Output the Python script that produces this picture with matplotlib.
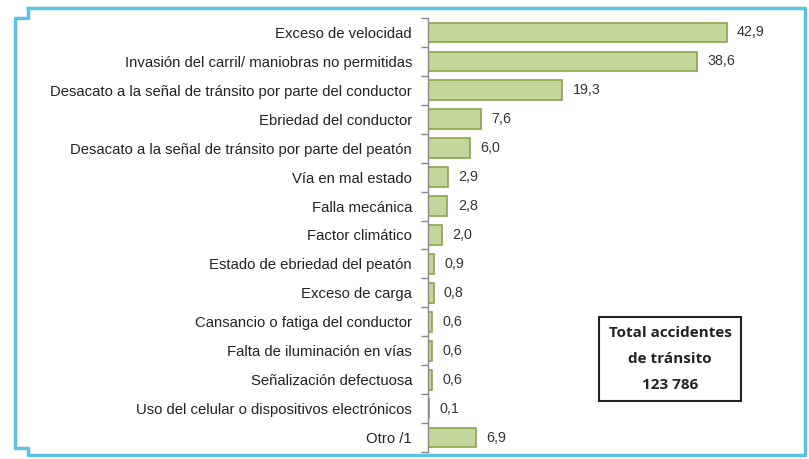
import matplotlib.pyplot as plt
from matplotlib.lines import Line2D
from matplotlib.ticker import FixedLocator

# Data
causes = [
    "Exceso de velocidad",
    "Invasión del carril/ maniobras no permitidas",
    "Desacato a la señal de tránsito por parte del conductor",
    "Ebriedad del conductor",
    "Desacato a la señal de tránsito por parte del peatón",
    "Vía en mal estado",
    "Falla mecánica",
    "Factor climático",
    "Estado de ebriedad del peatón",
    "Exceso de carga",
    "Cansancio o fatiga del conductor",
    "Falta de iluminación en vías",
    "Señalización defectuosa",
    "Uso del celular o dispositivos electrónicos",
    "Otro /1",
]
values = [42.9, 38.6, 19.3, 7.6, 6.0, 2.9, 2.8, 2.0, 0.9, 0.8, 0.6, 0.6, 0.6, 0.1, 6.9]
total_text = "Total accidentes\nde tránsito\n123 786"

plt.rcParams['font.family'] = ['Liberation Sans', 'DejaVu Sans']

W, H = 809, 459
fig = plt.figure(figsize=(W / 100, H / 100), dpi=100)
fig.patch.set_facecolor('white')

# axes placed in pixel terms
ax_left, ax_right, ax_top, ax_bottom = 428, 790, 18, 452
ax = fig.add_axes([ax_left / W, 1 - ax_bottom / H, (ax_right - ax_left) / W, (ax_bottom - ax_top) / H])

ypos = list(range(len(causes)))
ax.barh(ypos, values, height=0.68, color='#c3d69b', edgecolor='#8aa54a', linewidth=1.2)

for y, v in zip(ypos, values):
    ax.annotate(f"{v:.1f}".replace('.', ','), (v, y), xytext=(7.5, 0), textcoords='offset points',
                va='center', ha='left', fontsize=10.3, color='#333333')

ax.set_xlim(0, 52)
ax.set_ylim(len(causes) - 0.5, -0.5)
ax.set_yticks(ypos)
ax.set_yticklabels(causes, fontsize=10.7, color='#222222')
ax.tick_params(axis='y', which='major', length=0, pad=11.5)
ax.yaxis.set_minor_locator(FixedLocator([i - 0.5 for i in range(len(causes) + 1)]))
ax.tick_params(axis='y', which='minor', length=5, color='#888888', width=1)
ax.set_xticks([])
for s in ['top', 'right', 'bottom']:
    ax.spines[s].set_visible(False)
ax.spines['left'].set_color('#888888')
ax.spines['left'].set_linewidth(1)
ax.set_facecolor('none')

# Total box
fig.text(670 / W, 1 - 359 / H, total_text, ha='center', va='center', fontsize=11,
         fontweight='bold', linespacing=2.05, family=['Open Sans', 'DejaVu Sans'], color='#222222',
         bbox=dict(boxstyle='square,pad=0.65', facecolor='white', edgecolor='#222222', linewidth=1.5))

# light blue frame with notched corners
px = [28, 805, 805, 28, 28, 15, 15, 28, 28]
py = [8, 8, 455, 455, 448, 448, 18, 18, 8]
fig.add_artist(Line2D([x / W for x in px], [1 - y / H for y in py], color='#5cc3e4',
                      linewidth=2.5, transform=fig.transFigure))

plt.savefig("out.png", dpi=100)
